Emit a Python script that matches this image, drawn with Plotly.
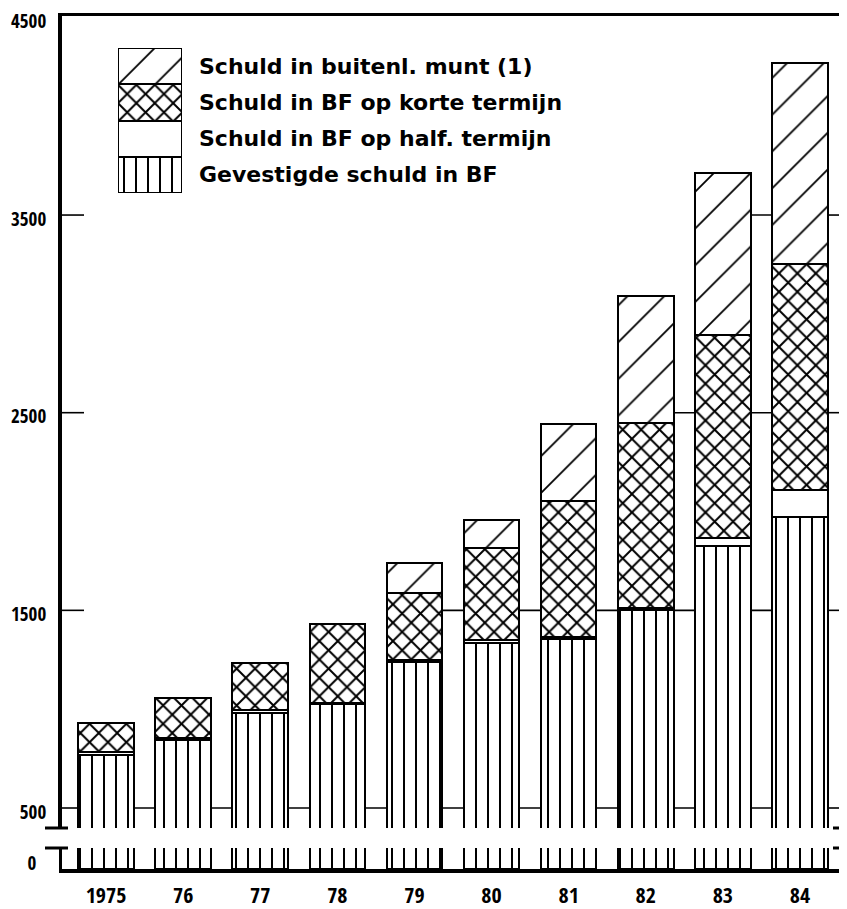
import plotly.graph_objects as go

# ---------------- data ----------------
years = ["1975", "76", "77", "78", "79", "80", "81", "82", "83", "84"]
gevestigde = [769, 845, 981, 1027, 1240, 1336, 1356, 1503, 1825, 1972]
half_termijn = [15, 10, 16, 5, 10, 15, 11, 11, 41, 137]
korte_termijn = [147, 202, 238, 401, 340, 462, 684, 932, 1027, 1143]
buitenl_munt = [0, 0, 0, 0, 152, 142, 390, 644, 819, 1017]

series_names = [
    "Gevestigde schuld in BF",
    "Schuld in BF op half. termijn",
    "Schuld in BF op korte termijn",
    "Schuld in buitenl. munt (1)",
]
series_values = [gevestigde, half_termijn, korte_termijn, buitenl_munt]
y_tick_values = [500, 1500, 2500, 3500, 4500]
y_tick_labels = ["500", "1500", "2500", "3500", "4500"]
y_zero_label = ["0"]

# ---------------- styles ----------------
patterns = [
    dict(shape="|", size=12, solidity=0.17),
    dict(shape="", size=8, solidity=0.2),
    dict(shape="x", size=13, solidity=0.28),
    dict(shape="/", size=26, solidity=0.07),
]
BAR_W = 0.72
TICK_FONT = dict(family="Open Sans Condensed, Roboto Condensed, DejaVu Sans Condensed, sans-serif",
                 size=19, color="black", weight="bold")
XTICK_FONT = dict(TICK_FONT, size=22)
LEG_FONT = dict(family="DejaVu Sans, sans-serif", size=22, color="black", weight="bold")

# page layout (the page body adds an 8 px offset around the figure)
OFF = 8
PAGE_W, PAGE_H = 847, 909
W, H = PAGE_W - OFF, PAGE_H - OFF
FRAME_L, FRAME_R, FRAME_T, BASE_Y = 62, 844, 16, 869   # page pixels
ML, MR, MT, MB = FRAME_L - OFF, PAGE_W - FRAME_R, FRAME_T - OFF, PAGE_H - BASE_Y
PW, PH = W - ML - MR, H - MT - MB


def px_x(x):
    return (x - OFF - ML) / PW


def px_y(y):
    return (H - MB - (y - OFF)) / PH


UP_DOM = [px_y(828), 1.0]
LO_DOM = [0.0, px_y(848)]
UP_RANGE = [398.8, 4507]
LO_RANGE = [0, 106]
X_RANGE = [-0.571, 9.571]

fig = go.Figure()


def marker_for(k):
    p = patterns[k]
    m = dict(color="white", line=dict(color="black", width=2.5))
    if p["shape"]:
        m["pattern"] = dict(shape=p["shape"], size=p["size"], solidity=p["solidity"],
                            fgcolor="black", bgcolor="white", fillmode="replace")
    return m


for xa, ya in (("x", "y"), ("x2", "y2")):
    for k, (name, vals) in enumerate(zip(series_names, series_values)):
        fig.add_trace(go.Bar(
            x=years, y=vals, name=name, width=BAR_W,
            marker=marker_for(k), xaxis=xa, yaxis=ya, showlegend=False,
            hoverinfo="skip",
        ))

# legend swatches (own small axes)
for k, name in enumerate(series_names):
    fig.add_trace(go.Bar(
        x=["leg"], y=[1], width=1, marker=marker_for(k), xaxis="x3", yaxis="y3",
        showlegend=False, hoverinfo="skip",
    ))

annotations = []
for k, name in enumerate(series_names):
    annotations.append(dict(
        x=px_x(197), xref="paper", xanchor="left",
        y=k + 0.5, yref="y3", yanchor="middle",
        text=name, showarrow=False, font=LEG_FONT,
    ))

# gridline segments between bars, as drawn on the original
totals = [sum(v) for v in zip(*series_values)]
shapes = []
for lvl in y_tick_values[:-1]:
    for i in range(len(years) - 1):
        if min(totals[i], totals[i + 1]) >= lvl:
            shapes.append(dict(type="line", xref="x", yref="y", x0=i, x1=i + 1,
                               y0=lvl, y1=lvl, layer="below",
                               line=dict(color="black", width=1.6)))
    shapes.append(dict(type="line", xref="paper", yref="y", x0=0, x1=22 / PW,
                       y0=lvl, y1=lvl, layer="below", line=dict(color="black", width=1.6)))
    shapes.append(dict(type="line", xref="paper", yref="y", x0=1 - 22 / PW, x1=1,
                       y0=lvl, y1=lvl, layer="below", line=dict(color="black", width=1.6)))

# axis break marks
for yy in (UP_DOM[0], LO_DOM[1]):
    shapes.append(dict(type="line", xref="paper", yref="paper", x0=px_x(45), x1=px_x(68),
                       y0=yy, y1=yy, line=dict(color="black", width=3)))
    shapes.append(dict(type="line", xref="paper", yref="paper", x0=px_x(833), x1=px_x(847),
                       y0=yy, y1=yy, line=dict(color="black", width=3)))

fig.update_layout(
    width=W, height=H,
    margin=dict(l=ML, r=MR, t=MT, b=MB, autoexpand=False),
    paper_bgcolor="white", plot_bgcolor="white",
    barmode="stack", bargap=0,
    showlegend=False,
    shapes=shapes, annotations=annotations,
    xaxis=dict(domain=[0, 1], anchor="y", range=X_RANGE, type="category",
               showticklabels=False, ticks="", showgrid=False, zeroline=False,
               showline=True, side="top", linecolor="black", linewidth=3, automargin=False),
    yaxis=dict(domain=UP_DOM, anchor="x", range=UP_RANGE, tickvals=y_tick_values,
               ticktext=y_tick_labels, ticks="", showgrid=False, zeroline=False,
               showline=True, mirror=True, linecolor="black", linewidth=4,
               tickfont=TICK_FONT, ticklabelstandoff=8, automargin=False,
               ticklabeloverflow="allow", ticklabelshift=4),
    xaxis2=dict(domain=[0, 1], anchor="y2", range=X_RANGE, type="category", matches="x",
                ticks="", showgrid=False, zeroline=False, showline=True,
                linecolor="black", linewidth=4, tickfont=XTICK_FONT, ticklabelstandoff=4,
                automargin=False, ticklabeloverflow="allow"),
    yaxis2=dict(domain=LO_DOM, anchor="x2", range=LO_RANGE, tickvals=[0], ticktext=y_zero_label,
                ticks="", showgrid=False, zeroline=False, showline=True, mirror=True,
                linecolor="black", linewidth=3, tickfont=TICK_FONT, ticklabelstandoff=19,
                ticklabelshift=-6, automargin=False, ticklabeloverflow="allow"),
    xaxis3=dict(domain=[px_x(118), px_x(182)], anchor="y3", range=[-0.5, 0.5],
                visible=False, fixedrange=True),
    yaxis3=dict(domain=[px_y(193), px_y(48)], anchor="x3", range=[0, 4],
                visible=False, fixedrange=True),
)

fig.write_html("out.html")
